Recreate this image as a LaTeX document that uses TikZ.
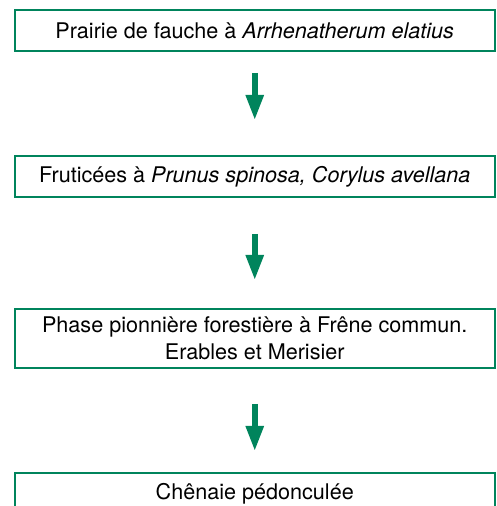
\documentclass[tikz,border=0pt]{standalone}
\usepackage{fontspec}
\setmainfont{TeX Gyre Heros}
\usetikzlibrary{arrows.meta}
\definecolor{sgreen}{RGB}{0,132,92}
\begin{document}
\begin{tikzpicture}[x=1pt,y=1pt,
  stagebox/.style={draw=sgreen, line width=2pt, minimum width=480pt, align=center,
    inner sep=0pt, font=\fontsize{21.6}{27}\selectfont},
  arr/.style={draw=sgreen, line width=5.5pt, -{Triangle[width=17pt,length=25pt]}}]
\useasboundingbox (0,0) rectangle (496,506);
\node[stagebox, minimum height=41pt] (b1) at (254.75,475.5) {Prairie de fauche à \textit{Arrhenatherum elatius}};
\node[stagebox, minimum height=41pt] (b2) at (254.75,329.5) {Fruticées à \textit{Prunus spinosa, Corylus avellana}};
\node[stagebox, minimum height=59pt] (b3) at (254.75,167.5) {Phase pionnière forestière à Frêne commun.\\Erables et Merisier};
\node[stagebox, minimum height=41pt] (b4) at (254.75,12.5) {Chênaie pédonculée};
\draw[arr] ([yshift=-21pt]b1.south) -- ([yshift=35pt]b2.north);
\draw[arr] ([yshift=-36pt]b2.south) -- ([yshift=28pt]b3.north);
\draw[arr] ([yshift=-35pt]b3.south) -- ([yshift=21pt]b4.north);
\end{tikzpicture}
\end{document}
